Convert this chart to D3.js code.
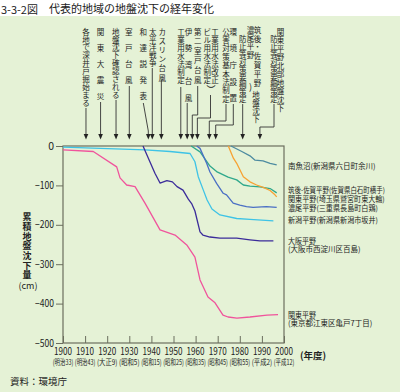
<!DOCTYPE html>
<html>
<head>
<meta charset="utf-8">
<script src="https://cdn.jsdelivr.net/npm/d3@7"></script>
<style>
body { margin: 0; background: #fff; }
text { font-family: "Noto Sans CJK JP", sans-serif; fill: #222; }
</style>
</head>
<body>
<svg id="figure"></svg>
<script>
// ---- data: [year, cumulative subsidence (cm)] ----
var kantoTokyo = [[1900,-10],[1913.7,-14],[1924.3,-53],[1925.8,-81],[1928.8,-99],[1932.6,-103],[1937.1,-145],[1943.9,-213],[1950.7,-226],[1956,-251],[1959.7,-282],[1962,-340],[1965.6,-383],[1968.8,-398],[1972.4,-429],[1974.7,-434],[1978.7,-437],[1984.6,-434],[1992.3,-429],[1997.3,-428]];
var osaka = [[1936.2,0],[1941.6,-69],[1943.9,-94],[1947,-88],[1949.5,-91],[1951.6,-103],[1954.3,-112],[1956.7,-135],[1958.2,-146],[1959.7,-165],[1962,-218],[1963.3,-226],[1966.5,-231],[1971,-234],[1978.6,-234],[1984.6,-238],[1989.1,-241],[1995.2,-241]];
var niigata = [[1900,-3],[1937.1,-10],[1948.4,-14],[1957.5,-19],[1959.7,-40],[1961.2,-78],[1963.5,-112],[1965.2,-137],[1967.4,-160],[1971,-175],[1978.6,-184],[1984.6,-186],[1995.2,-190]];
var nobi = [[1960.5,0],[1962,-6],[1965,-44],[1966.5,-66],[1969.5,-95],[1972.5,-120],[1974,-124],[1977,-145],[1980,-150],[1983,-154],[1986,-156],[1992,-154],[1996.7,-156]];
var chikugo = [[1958,0],[1962,-15],[1966.5,-51],[1969.5,-65],[1974.7,-79],[1978.6,-86],[1981.6,-99],[1984.6,-102],[1989.1,-104],[1993.7,-108],[1996.7,-119]];
var kantoSaitama = [[1974.8,0],[1977.1,-31],[1978.6,-44],[1981.6,-78],[1984.6,-91],[1987.6,-99],[1990.6,-105],[1993.7,-113],[1995.9,-124],[1996.7,-129]];
var minamiUonuma = [[1976,0],[1980.9,-14],[1984.6,-25],[1986.9,-36],[1990.5,-38],[1993.7,-44],[1996.7,-48]];

var yearTicks = [1900,1910,1920,1930,1940,1950,1960,1970,1980,1990,2000];
var eraLabels = ["(明治33)","(明治43)","(大正9)","(昭和5)","(昭和15)","(昭和25)","(昭和35)","(昭和45)","(昭和55)","(平成2)","(平成12)"];
var valueTicks = [0,-100,-200,-300,-400,-500];

var eventNames = ["各地で深井戸掘始まる","関東大震災","地盤沈下確認される","室戸台風","和達説発表","太平洋戦争","カスリン台風","工業用水法制定","伊勢湾台風","第二室戸台風","ビル用水法制定・工業用水法改正","公害対策基本法制定","環境庁設置","濃尾平野・筑後・佐賀平野地盤沈下防止等対策要綱策定","関東平野北部地盤沈下防止等対策要綱策定"];
var eventYears = [1910.4,1917,1924,1930,1938.6,1940.4,1944.5,1953.3,1956.2,1958.5,1960.8,1966.2,1969.1,1981.3,1989.1];

var seriesNames = ["南魚沼(新潟県六日町余川)","筑後-佐賀平野(佐賀県白石町横手)","関東平野(埼玉県鷲宮町東大輪)","濃尾平野(三重県長島町白鶏)","新潟平野(新潟県新潟市坂井)","大阪平野","関東平野"];
var seriesSub = ["","","","","","(大阪市西淀川区百島)","(東京都江東区亀戸7丁目)"];
var seriesData = [minamiUonuma, chikugo, kantoSaitama, nobi, niigata, osaka, kantoTokyo];

// ---- layout / styles ----
var seriesColors = ["#4d8ba0","#2fa88c","#f7a233","#4a6fc4","#3ec3e6","#3b2c9a","#f0549c"];
var legendY = [166, 190, 199, 208.5, 220.5, 241, 315];
var legendW = [92, 97, 97, 90, 90, 28, 28];
var subW = [0,0,0,0,0,78,90];

var margin = {top: 146, left: 63, right: 116, bottom: 49};
var fullWidth = 400, fullHeight = 392;
var width = fullWidth - margin.left - margin.right;
var height = fullHeight - margin.top - margin.bottom;

var svg = d3.select("#figure").attr("width", fullWidth).attr("height", fullHeight);

// horizontally squeezed text: scale to the given width
function squeezed(parent, str, x, y, size, w, anchor) {
    var t = parent.append("text").text(str).attr("font-size", size)
        .attr("text-anchor", anchor || "start").attr("dy","0.35em");
    var nat = t.node().getComputedTextLength();
    var k = Math.min(1, w / nat);
    t.attr("transform","translate(" + x + "," + y + ") scale(" + k + ",1)");
    return t;
}

svg.append("rect").attr("x",0).attr("y",16).attr("width",fullWidth).attr("height",fullHeight-16).attr("fill","#e5f2d6");

svg.append("text").text("3-3-2図").attr("x",1).attr("y",14).attr("font-size",11);
squeezed(svg, "代表的地域の地盤沈下の経年変化", 49, 9.5, 11, 166);

var g = svg.append("g").attr("transform","translate(" + margin.left + "," + margin.top + ")");

var xRange = d3.scaleLinear().domain([1900,2000]).range([0,width]);
var yRange = d3.scaleLinear().domain([-500,0]).range([height,0]);

var axisColor = "#6b6e5e";

// left axis
var yAxis = d3.axisLeft(yRange).tickValues(valueTicks).tickSize(7).tickFormat("");
var ya = g.append("g").call(yAxis);
ya.select(".domain").remove();
ya.selectAll("line").attr("stroke",axisColor);
valueTicks.forEach(function(v){
    var s = v === 0 ? "0" : "\u2212" + (-v);
    squeezed(g, s, -9, yRange(v), 10.5, v === 0 ? 7 : 19, "end");
});

// bottom axis (ticks pointing up)
var xAxis = d3.axisBottom(xRange).tickValues(yearTicks).tickSize(-7).tickFormat("");
var xa = g.append("g").attr("transform","translate(0," + height + ")").call(xAxis);
xa.select(".domain").remove();
xa.selectAll("line").attr("stroke",axisColor);
yearTicks.forEach(function(yr,i){
    squeezed(g, String(yr), xRange(yr), height + 8.5, 10.5, 18, "middle");
    squeezed(g, eraLabels[i], xRange(yr), height + 19, 8, 20.5, "middle");
});

g.append("text").text("(年度)").attr("x",width + 16).attr("y",height + 16).attr("font-size",9.5).attr("font-weight","bold");

// frame
g.append("rect").attr("x",0).attr("y",0).attr("width",width).attr("height",height)
    .attr("fill","none").attr("stroke",axisColor).attr("stroke-width",1.2);

// series lines
var line = d3.line().x(function(d){ return xRange(d[0]); }).y(function(d){ return yRange(d[1]); });
seriesData.forEach(function(s,i){
    g.append("path").attr("d",line(s)).attr("fill","none")
        .attr("stroke",seriesColors[i]).attr("stroke-width",1.3).attr("stroke-linejoin","round");
});

// series labels
seriesNames.forEach(function(n,i){
    squeezed(svg, n, 288, legendY[i], 7.5, legendW[i]);
    if (seriesSub[i]) squeezed(svg, seriesSub[i], 288, legendY[i] + 8.3, 7.5, subW[i]);
});

// vertical text column, one char per text element
function column(str, x, yCenter0, step, size, weight) {
    str.split("").forEach(function(ch,i){
        svg.append("text").text(ch).attr("x",x).attr("y",yCenter0 + i*step).attr("dy","0.35em")
            .attr("text-anchor","middle").attr("font-size",size)
            .attr("font-weight", weight || "normal");
    });
}

// y axis title (vertical)
column("累積地盤沈下量", 27, 217, 9.7, 9, "bold");
svg.append("text").text("(cm)").attr("x",28).attr("y",286).attr("dy","0.35em")
    .attr("text-anchor","middle").attr("font-size",9);

svg.append("text").text("資料：環境庁").attr("x",10).attr("y",385).attr("font-size",9.5);

// ---- event annotations ----
var labelCols = [
    {t:"各地で深井戸掘始まる", x:86, y:32, s:7.9},
    {t:"関東大震災", x:100.5, y:32, s:16.2},
    {t:"地盤沈下確認される", x:115.7, y:32, s:7.9},
    {t:"室戸台風", x:128.7, y:32, s:16},
    {t:"和達説発表", x:143.3, y:32, s:16.2},
    {t:"太平洋戦争", x:152.7, y:32, s:7.9},
    {t:"カスリン台風", x:162.3, y:32, s:9.2},
    {t:"工業用水法制定", x:181, y:32, s:8},
    {t:"伊勢湾台風", x:188.6, y:32, s:16.5},
    {t:"第二室戸台風", x:197.7, y:32, s:9.6},
    {t:"ビル用水法制定", x:207.3, y:32, s:8},
    {t:"工業用水法改正", x:215, y:32, s:8},
    {t:"公害対策基本法制定", x:226, y:32, s:8.4},
    {t:"環境庁設置", x:233.3, y:32, s:16.7},
    {t:"防止等対策要綱策定", x:242.7, y:39, s:7.6},
    {t:"濃尾平野", x:250.5, y:30, s:8.3},
    {t:"筑後・佐賀平野", x:257.5, y:30, s:8.9},
    {t:"地盤沈下", x:256, y:95, s:8.2},
    {t:"防止等対策要綱策定", x:274, y:39, s:7.6},
    {t:"関東平野北部地盤沈下", x:280.5, y:32, s:8.5}
];
labelCols.forEach(function(c){ column(c.t, c.x, c.y, c.s, 7.5); });
svg.append("text").text("︶").attr("x",211).attr("y",90).attr("dy","0.35em").attr("text-anchor","middle").attr("font-size",9);
svg.append("text").text(")").attr("x",250.5).attr("y",87).attr("dy","0.35em").attr("text-anchor","middle").attr("font-size",9);

// leader lines: start of each line below its label, optional elbow level
var leaders = [
    {x:86, y:108}, {x:100.5, y:102}, {x:115.7, y:100}, {x:128.7, y:86},
    {x:143.3, y:103, diag:131}, {x:152.7, y:68}, {x:162.3, y:80}, {x:181, y:87},
    {x:188.6, y:103}, {x:197.7, y:86, bend:115}, {x:210.5, y:95, bend:118},
    {x:226, y:104, bend:121}, {x:233.3, y:104, bend:125}, {x:242.7, y:104},
    {x:274, y:104, bend:127}
];
var tipY = margin.top - 6.5, baseY = margin.top - 12;
eventYears.forEach(function(yr,i){
    var ax = margin.left + xRange(yr);
    var L = leaders[i];
    var p;
    if (L.diag) p = "M" + L.x + "," + L.y + "L" + ax + "," + L.diag + "L" + ax + "," + baseY;
    else if (L.bend) p = "M" + L.x + "," + L.y + "L" + L.x + "," + L.bend + "L" + ax + "," + L.bend + "L" + ax + "," + baseY;
    else p = "M" + ax + "," + L.y + "L" + ax + "," + baseY;
    svg.append("path").attr("d",p).attr("fill","none").attr("stroke","#333").attr("stroke-width",0.9);
    svg.append("path").attr("d","M" + (ax-2.3) + "," + baseY + "L" + (ax+2.3) + "," + baseY + "L" + ax + "," + tipY + "Z")
        .attr("fill","#222");
});
</script>
</body>
</html>
